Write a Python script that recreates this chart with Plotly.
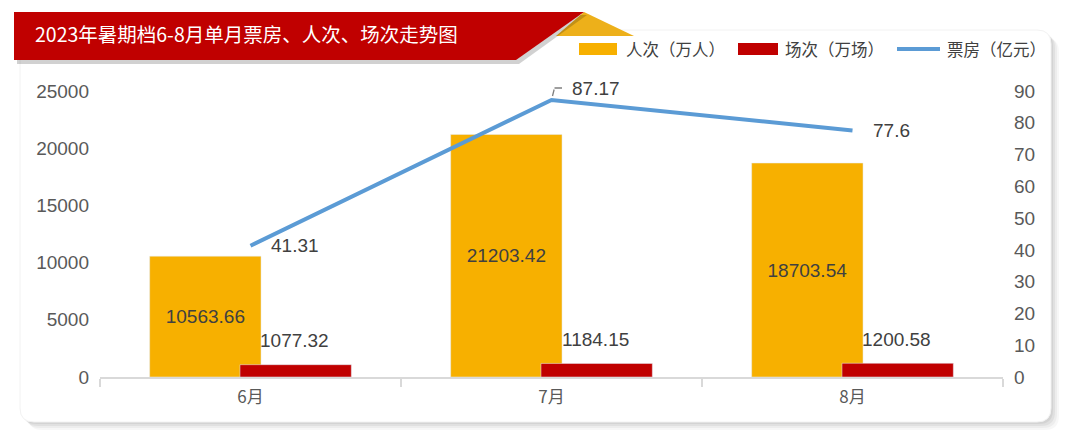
import plotly.graph_objects as go

months = ["6月", "7月", "8月"]
audience = [10563.66, 21203.42, 18703.54]   # 人次（万人）
screenings = [1077.32, 1184.15, 1200.58]    # 场次（万场）
box_office = [41.31, 87.17, 77.6]           # 票房（亿元）

title = "2023年暑期档6-8月单月票房、人次、场次走势图"
names = ["人次（万人）", "场次（万场）", "票房（亿元）"]

# the page body adds an 8px margin, so the figure is drawn 16px smaller
# and all pixel positions below are given in window coordinates
OFF = 8
W, H = 1080 - 2 * OFF, 443 - 2 * OFF
ORANGE = "#F7B000"
RED = "#C00000"
BLUE = "#5B9BD5"
TXT = "#404040"
FONT = "Liberation Sans, Noto Sans CJK SC, sans-serif"
CJK = "Noto Sans CJK SC, sans-serif"


def px(x):
    return (x - OFF) / W


def py(y):
    return 1 - (y - OFF) / H


def rounded_rect(x0, y0, x1, y1, r):
    # path in paper coords from pixel corners
    return (
        f"M {px(x0 + r)},{py(y0)} L {px(x1 - r)},{py(y0)} "
        f"Q {px(x1)},{py(y0)} {px(x1)},{py(y0 + r)} "
        f"L {px(x1)},{py(y1 - r)} Q {px(x1)},{py(y1)} {px(x1 - r)},{py(y1)} "
        f"L {px(x0 + r)},{py(y1)} Q {px(x0)},{py(y1)} {px(x0)},{py(y1 - r)} "
        f"L {px(x0)},{py(y0 + r)} Q {px(x0)},{py(y0)} {px(x0 + r)},{py(y0)} Z"
    )


def poly(points):
    return "M " + " L ".join(f"{px(x)},{py(y)}" for x, y in points) + " Z"


fig = go.Figure()

fig.add_trace(go.Bar(
    x=months, y=audience, name=names[0],
    marker_color=ORANGE, width=0.37, offset=-0.335,
    text=[f"{v:.2f}" for v in audience],
    textposition="inside", insidetextanchor="middle", textangle=0,
    textfont=dict(color=TXT, size=19, family=FONT),
))
fig.add_trace(go.Bar(
    x=months, y=screenings, name=names[1],
    marker_color=RED, width=0.37, offset=-0.035,
))
fig.add_trace(go.Scatter(
    x=months, y=box_office, name=names[2], yaxis="y2",
    mode="lines", line=dict(color=BLUE, width=4),
))

shapes = []
# card shadow + card
for i, op in enumerate([0.06, 0.05, 0.04, 0.03]):
    d = 2 + i * 2
    shapes.append(dict(type="path", xref="paper", yref="paper", layer="below",
                       path=rounded_rect(20 + d, 30 + d, 1051 + d, 422 + d, 14),
                       fillcolor=f"rgba(0,0,0,{op})", line_width=0))
shapes.append(dict(type="path", xref="paper", yref="paper", layer="below",
                   path=rounded_rect(20, 30, 1051, 422, 14),
                   fillcolor="white", line=dict(color="#f2f2f2", width=1)))
# title banner
shapes.append(dict(type="path", xref="paper", yref="paper", layer="above",
                   path=poly([(584, 12), (634, 36), (556, 36)]),
                   fillcolor="#EDB01A", line_width=0))
shapes.append(dict(type="path", xref="paper", yref="paper", layer="above",
                   path=poly([(17, 15), (587, 15), (519, 64), (17, 64)]),
                   fillcolor="rgba(0,0,0,0.18)", line_width=0))
shapes.append(dict(type="path", xref="paper", yref="paper", layer="above",
                   path=poly([(14, 12), (584, 12), (516, 60), (14, 60)]),
                   fillcolor=RED, line_width=0))
# legend swatches
shapes.append(dict(type="rect", xref="paper", yref="paper",
                   x0=px(579), x1=px(617), y0=py(55), y1=py(43),
                   fillcolor=ORANGE, line_width=0))
shapes.append(dict(type="rect", xref="paper", yref="paper",
                   x0=px(738), x1=px(778), y0=py(55), y1=py(43),
                   fillcolor=RED, line_width=0))
shapes.append(dict(type="line", xref="paper", yref="paper",
                   x0=px(897), x1=px(940), y0=py(49), y1=py(49),
                   line=dict(color=BLUE, width=4)))

annotations = [
    dict(text=title, x=px(33), y=py(34), xref="paper", yref="paper",
         xanchor="left", yanchor="middle", showarrow=False,
         font=dict(color="white", size=19.5, family=CJK)),
]
for xpos, n in zip([624, 783, 945], names):
    annotations.append(dict(text=n, x=px(xpos), y=py(49), xref="paper", yref="paper",
                            xanchor="left", yanchor="middle", showarrow=False,
                            font=dict(color=TXT, size=16.5, family=CJK)))
for m, v in zip(months, screenings):
    annotations.append(dict(text=f"{v:.2f}", x=m, y=v, xref="x", yref="y",
                            xanchor="center", yanchor="middle", xshift=44, yshift=24,
                            showarrow=False, font=dict(color=TXT, size=19, family=FONT)))
for i, (m, v) in enumerate(zip(months, box_office)):
    annotations.append(dict(text=f"{v:g}", x=m, y=v, xref="x", yref="y2",
                            xanchor="left", yanchor="middle",
                            xshift=18, yshift=11 if i == 1 else 0,
                            showarrow=False, font=dict(color=TXT, size=19, family=FONT)))

# bent leader line for the peak label (two arrowless segments)
i_peak = box_office.index(max(box_office))
for xs, ys, ax, ay in [(1, 4, 2, -8), (3, 12, 9, 0)]:
    annotations.append(dict(text="", x=months[i_peak], y=box_office[i_peak],
                            xref="x", yref="y2", xshift=xs, yshift=ys,
                            showarrow=True, arrowhead=0, arrowwidth=1.3,
                            arrowcolor="#7f7f7f", ax=ax, ay=ay, standoff=0, startstandoff=0))

fig.update_layout(
    width=W, height=H,
    margin=dict(l=0, r=0, t=0, b=0, pad=0),
    paper_bgcolor="white", plot_bgcolor="rgba(0,0,0,0)",
    barmode="overlay", showlegend=False,
    font=dict(family=FONT, color="#595959"),
    xaxis=dict(domain=[px(100), px(1003)], automargin=False, showgrid=False, showline=True,
               linecolor="#d9d9d9", linewidth=1.5, ticks="outside", tickson="boundaries",
               ticklen=8, tickcolor="#d9d9d9", tickwidth=1.5,
               tickfont=dict(size=17, color="#595959", family=CJK),
               ticklabelstandoff=4),
    yaxis=dict(domain=[py(377), py(91)], range=[0, 25000], dtick=5000, tickformat="d",
               automargin=False, showgrid=False, zeroline=False, showline=False,
               tickfont=dict(size=19, color="#595959"), ticklabelstandoff=10),
    yaxis2=dict(overlaying="y", side="right", range=[0, 90], dtick=10, tickformat="d",
                automargin=False, showgrid=False, zeroline=False, showline=False,
                tickfont=dict(size=19, color="#595959"), ticklabelstandoff=10),
    shapes=shapes, annotations=annotations,
)

fig.write_html("out.html")
